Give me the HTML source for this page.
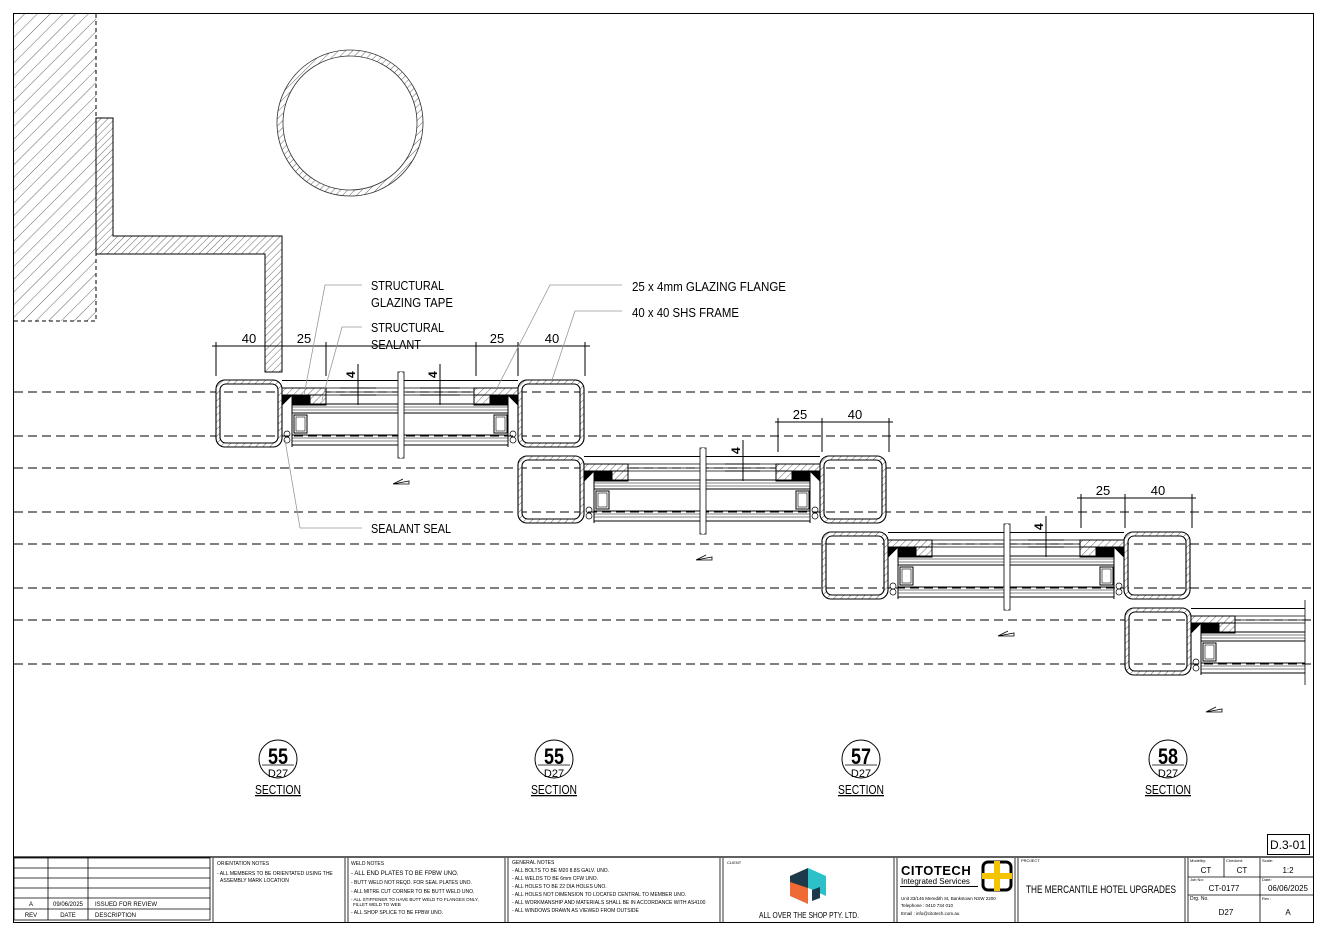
<!DOCTYPE html>
<html><head><meta charset="utf-8"><style>
html,body{margin:0;padding:0;background:#fff}
svg{display:block}
text{font-family:"Liberation Sans",sans-serif;fill:#000}
.lbl{font-size:13px;fill:#222}
</style></head><body>
<svg width="1327" height="936" viewBox="0 0 1327 936" xmlns="http://www.w3.org/2000/svg">
<defs>
<pattern id="h" width="5" height="5" patternUnits="userSpaceOnUse" patternTransform="rotate(45)">
<rect width="5" height="5" fill="#fff"/><line x1="0" y1="0" x2="0" y2="5" stroke="#555" stroke-width="0.9"/></pattern>
<pattern id="hw" width="9" height="9" patternUnits="userSpaceOnUse" patternTransform="rotate(45)">
<rect width="9" height="9" fill="#fff"/><line x1="0" y1="0" x2="0" y2="9" stroke="#666" stroke-width="1"/></pattern>
<g id="shs">
<path d="M9,0 H57 A9,9 0 0 1 66,9 V58 A9,9 0 0 1 57,67 H9 A9,9 0 0 1 0,58 V9 A9,9 0 0 1 9,0 Z M10,4 A6,6 0 0 0 4,10 V57 A6,6 0 0 0 10,63 H56 A6,6 0 0 0 62,57 V10 A6,6 0 0 0 56,4 Z" fill="url(#h)" fill-rule="evenodd" stroke="#000" stroke-width="1.1"/>
</g>
<g id="arr" stroke="#000" stroke-width="0.8" fill="none"><path d="M0,5 L16,5 L16,2 Z M0,5 L10,0"/></g>
<g id="sec" stroke="#000" stroke-width="1" fill="none">
<use href="#shs"/>
<use href="#shs" x="302"/>
<line x1="66" y1="0.5" x2="302" y2="0.5"/>
<line x1="110" y1="8" x2="258" y2="8" stroke-width="0.7"/>
<line x1="110" y1="12" x2="258" y2="12" stroke-width="0.7"/>
<line x1="110" y1="15" x2="258" y2="15" stroke-width="0.7"/>
<rect x="66" y="8" width="44" height="7" fill="url(#h)"/>
<rect x="258" y="8" width="44" height="7" fill="url(#h)"/>
<rect x="94" y="15" width="16" height="10" fill="url(#h)"/>
<rect x="258" y="15" width="16" height="10" fill="url(#h)"/>
<rect x="76" y="15" width="18" height="10" fill="#000"/>
<rect x="274" y="15" width="18" height="10" fill="#000"/>
<path d="M66,15 H76 L66,25 Z" fill="#000"/>
<path d="M302,15 H292 L302,25 Z" fill="#000"/>
<line x1="76" y1="15" x2="76" y2="67"/>
<line x1="292" y1="15" x2="292" y2="67"/>
<line x1="76" y1="24" x2="292" y2="24"/>
<line x1="76" y1="27" x2="292" y2="27" stroke-width="0.6"/>
<line x1="76" y1="30" x2="292" y2="30" stroke-width="0.6"/>
<line x1="76" y1="33" x2="292" y2="33"/>
<line x1="76" y1="55" x2="292" y2="55"/>
<line x1="76" y1="58" x2="292" y2="58" stroke-width="0.6"/>
<line x1="76" y1="61" x2="292" y2="61" stroke-width="0.6"/>
<line x1="76" y1="65" x2="292" y2="65"/>
<rect x="78" y="35" width="13" height="18"/>
<rect x="80" y="37" width="9" height="14" stroke-width="0.6"/>
<rect x="278" y="35" width="13" height="18"/>
<rect x="280" y="37" width="9" height="14" stroke-width="0.6"/>
<circle cx="71" cy="54" r="3" stroke-width="0.7"/>
<circle cx="71" cy="60" r="3" stroke-width="0.7"/>
<circle cx="297" cy="54" r="3" stroke-width="0.7"/>
<circle cx="297" cy="60" r="3" stroke-width="0.7"/>
<rect x="182" y="-8" width="6" height="86" fill="#fff" stroke-width="0.8"/>
<line x1="185" y1="-8" x2="185" y2="78" stroke="#fff" stroke-width="2"/>
</g>
<clipPath id="cp"><rect x="0" y="0" width="1305" height="936"/></clipPath>
</defs>

<rect x="13.5" y="13.5" width="1300" height="909" fill="none" stroke="#000" stroke-width="1"/>

<rect x="14" y="14" width="82" height="307" fill="url(#hw)"/>
<path d="M96,14 V321 H14" fill="none" stroke="#000" stroke-dasharray="4,3"/>
<path d="M96,118 H113 V236 H282 V372 H265 V254 H96 Z" fill="url(#h)" stroke="#000"/>
<path d="M350,50 a73,73 0 1 0 0.01,0 Z M350,56 a67,67 0 1 1 -0.01,0 Z" fill="url(#h)" fill-rule="evenodd" stroke="#333" stroke-width="0.8"/>

<g stroke="#000" stroke-dasharray="9,5" stroke-width="1">
<line x1="14" y1="392" x2="1313" y2="392"/><line x1="14" y1="436" x2="1313" y2="436"/>
<line x1="14" y1="468" x2="1313" y2="468"/><line x1="14" y1="512" x2="1313" y2="512"/>
<line x1="14" y1="544" x2="1313" y2="544"/><line x1="14" y1="588" x2="1313" y2="588"/>
<line x1="14" y1="620" x2="1313" y2="620"/><line x1="14" y1="664" x2="1313" y2="664"/>
</g>

<use href="#sec" x="216" y="380"/>
<use href="#sec" x="518" y="456"/>
<use href="#sec" x="822" y="532"/>
<g clip-path="url(#cp)"><use href="#sec" x="1125" y="608"/></g>
<line x1="1305" y1="600" x2="1305" y2="685" stroke="#000" stroke-width="0.8"/>
<use href="#arr" x="393" y="479"/>
<use href="#arr" x="696" y="555"/>
<use href="#arr" x="998" y="631"/>
<use href="#arr" x="1206" y="707"/>

<g stroke="#000" stroke-width="1" fill="none">
<line x1="212" y1="346" x2="590" y2="346"/>
<line x1="216" y1="342" x2="216" y2="376"/><line x1="282" y1="342" x2="282" y2="352"/><line x1="326" y1="342" x2="326" y2="376"/>
<line x1="476" y1="342" x2="476" y2="376"/><line x1="518" y1="342" x2="518" y2="376"/><line x1="585" y1="342" x2="585" y2="376"/>
<line x1="775" y1="422" x2="893" y2="422"/>
<line x1="778" y1="418" x2="778" y2="452"/><line x1="822" y1="418" x2="822" y2="452"/><line x1="889" y1="418" x2="889" y2="452"/>
<line x1="1077" y1="498" x2="1196" y2="498"/>
<line x1="1081" y1="494" x2="1081" y2="528"/><line x1="1125" y1="494" x2="1125" y2="528"/><line x1="1192" y1="494" x2="1192" y2="528"/>
<line x1="358" y1="364" x2="358" y2="405"/><line x1="340" y1="388" x2="376" y2="388"/><line x1="340" y1="395" x2="376" y2="395"/>
<line x1="440" y1="364" x2="440" y2="405"/><line x1="420" y1="388" x2="460" y2="388"/><line x1="420" y1="395" x2="460" y2="395"/>
<line x1="743" y1="440" x2="743" y2="481"/><line x1="725" y1="464" x2="760" y2="464"/><line x1="725" y1="471" x2="760" y2="471"/>
<line x1="1046" y1="516" x2="1046" y2="557"/><line x1="1028" y1="540" x2="1064" y2="540"/><line x1="1028" y1="547" x2="1064" y2="547"/>
</g>
<g font-size="13" text-anchor="middle">
<text x="249" y="343">40</text><text x="304" y="343">25</text><text x="497" y="343">25</text><text x="552" y="343">40</text>
<text x="800" y="419">25</text><text x="855" y="419">40</text>
<text x="1103" y="495">25</text><text x="1158" y="495">40</text>
</g>
<g font-size="12" font-weight="bold">
<text transform="translate(355,378) rotate(-90)">4</text><text transform="translate(437,378) rotate(-90)">4</text>
<text transform="translate(740,454) rotate(-90)">4</text><text transform="translate(1043,530) rotate(-90)">4</text>
</g>

<g stroke="#999" stroke-width="0.8" fill="none">
<path d="M362,285 H325 L304,395"/><path d="M362,327 H342 L322,400"/>
<path d="M622,285 H550 L495,392"/><path d="M622,311 H575 L552,380"/>
<path d="M362,528 H300 L285,440"/>
</g>
<g class="lbl" lengthAdjust="spacingAndGlyphs">
<text x="371" y="290" textLength="73" lengthAdjust="spacingAndGlyphs">STRUCTURAL</text>
<text x="371" y="307" textLength="82" lengthAdjust="spacingAndGlyphs">GLAZING TAPE</text>
<text x="371" y="332" textLength="73" lengthAdjust="spacingAndGlyphs">STRUCTURAL</text>
<text x="371" y="349" textLength="50" lengthAdjust="spacingAndGlyphs">SEALANT</text>
<text x="632" y="291" textLength="154" lengthAdjust="spacingAndGlyphs">25 x 4mm GLAZING FLANGE</text>
<text x="632" y="317" textLength="107" lengthAdjust="spacingAndGlyphs">40 x 40 SHS FRAME</text>
<text x="371" y="533" textLength="80" lengthAdjust="spacingAndGlyphs">SEALANT SEAL</text>
</g>

<g>
<circle cx="278" cy="759" r="19" fill="none" stroke="#000"/><line x1="262" y1="765" x2="294" y2="765" stroke="#000" stroke-width="0.8"/>
<text x="278" y="764" font-size="22" font-weight="bold" text-anchor="middle" textLength="20" lengthAdjust="spacingAndGlyphs">55</text><text x="278" y="777" font-size="11" text-anchor="middle">D27</text>
<text x="278" y="794" font-size="13" text-anchor="middle" text-decoration="underline" textLength="46" lengthAdjust="spacingAndGlyphs">SECTION</text>
<circle cx="554" cy="759" r="19" fill="none" stroke="#000"/><line x1="538" y1="765" x2="570" y2="765" stroke="#000" stroke-width="0.8"/>
<text x="554" y="764" font-size="22" font-weight="bold" text-anchor="middle" textLength="20" lengthAdjust="spacingAndGlyphs">55</text><text x="554" y="777" font-size="11" text-anchor="middle">D27</text>
<text x="554" y="794" font-size="13" text-anchor="middle" text-decoration="underline" textLength="46" lengthAdjust="spacingAndGlyphs">SECTION</text>
<circle cx="861" cy="759" r="19" fill="none" stroke="#000"/><line x1="845" y1="765" x2="877" y2="765" stroke="#000" stroke-width="0.8"/>
<text x="861" y="764" font-size="22" font-weight="bold" text-anchor="middle" textLength="20" lengthAdjust="spacingAndGlyphs">57</text><text x="861" y="777" font-size="11" text-anchor="middle">D27</text>
<text x="861" y="794" font-size="13" text-anchor="middle" text-decoration="underline" textLength="46" lengthAdjust="spacingAndGlyphs">SECTION</text>
<circle cx="1168" cy="759" r="19" fill="none" stroke="#000"/><line x1="1152" y1="765" x2="1184" y2="765" stroke="#000" stroke-width="0.8"/>
<text x="1168" y="764" font-size="22" font-weight="bold" text-anchor="middle" textLength="20" lengthAdjust="spacingAndGlyphs">58</text><text x="1168" y="777" font-size="11" text-anchor="middle">D27</text>
<text x="1168" y="794" font-size="13" text-anchor="middle" text-decoration="underline" textLength="46" lengthAdjust="spacingAndGlyphs">SECTION</text>
</g>

<rect x="1267.5" y="834.5" width="42" height="20" fill="none" stroke="#000"/>
<text x="1288" y="849" font-size="12" text-anchor="middle">D.3-01</text>
<line x1="14" y1="857" x2="1313" y2="857" stroke="#000" stroke-width="1.2"/>
<g stroke="#000" fill="none" stroke-width="0.8">
<rect x="14" y="858" width="196" height="62"/>
<line x1="14" y1="868" x2="210" y2="868"/><line x1="14" y1="878" x2="210" y2="878"/><line x1="14" y1="888" x2="210" y2="888"/><line x1="14" y1="898" x2="210" y2="898"/><line x1="14" y1="909" x2="210" y2="909"/>
<line x1="48" y1="858" x2="48" y2="920"/><line x1="88" y1="858" x2="88" y2="920"/>
<line x1="213" y1="858" x2="213" y2="922"/>
<line x1="345" y1="858" x2="345" y2="922"/><line x1="348" y1="858" x2="348" y2="922"/>
<line x1="505" y1="858" x2="505" y2="922"/><line x1="508" y1="858" x2="508" y2="922"/>
<line x1="720" y1="858" x2="720" y2="922"/><line x1="723" y1="858" x2="723" y2="922"/>
<line x1="894" y1="858" x2="894" y2="922"/><line x1="897" y1="858" x2="897" y2="922"/>
<line x1="1015" y1="858" x2="1015" y2="922"/><line x1="1018" y1="858" x2="1018" y2="922"/>
<line x1="1185" y1="858" x2="1185" y2="922"/><line x1="1188" y1="858" x2="1188" y2="922"/>
<line x1="1260" y1="858" x2="1260" y2="922"/>
<line x1="1224" y1="858" x2="1224" y2="877"/>
<line x1="1188" y1="877" x2="1313" y2="877"/><line x1="1188" y1="895" x2="1313" y2="895"/>
</g>
<g font-size="6">
<text x="31" y="906" text-anchor="middle">A</text><text x="68" y="906" text-anchor="middle">09/06/2025</text><text x="95" y="906">ISSUED FOR REVIEW</text>
<text x="31" y="917" text-anchor="middle">REV</text><text x="68" y="917" text-anchor="middle">DATE</text><text x="95" y="917">DESCRIPTION</text>
<text x="217" y="865" font-size="5">ORIENTATION NOTES</text>
<text x="217" y="875" font-size="5">- ALL MEMBERS TO BE ORIENTATED USING THE</text><text x="220" y="882" font-size="5">ASSEMBLY MARK LOCATION</text>
<text x="351" y="865" font-size="5">WELD NOTES</text>
<text x="351" y="875">- ALL END PLATES TO BE FPBW UNO.</text>
<text x="351" y="884" font-size="5">- BUTT WELD NOT REQD. FOR SEAL PLATES UNO.</text>
<text x="351" y="893" font-size="5">- ALL  MITRE CUT CORNER TO BE BUTT WELD UNO.</text>
<text x="351" y="901" font-size="4.5">- ALL STIFFENER TO HAVE BUTT WELD TO FLANGES ONLY,</text>
<text x="353" y="906" font-size="4.5">FILLET WELD TO WEB</text>
<text x="351" y="914" font-size="5">- ALL  SHOP SPLICE TO BE FPBW UNO.</text>
<text x="512" y="864" font-size="5">GENERAL NOTES</text>
<text x="512" y="872" font-size="5">- ALL BOLTS TO BE M20 8.8S GALV. UNO.</text>
<text x="512" y="880" font-size="5">- ALL WELDS TO BE 6mm CFW UNO.</text>
<text x="512" y="888" font-size="5">- ALL HOLES TO BE 22 DIA HOLES UNO.</text>
<text x="512" y="896" font-size="5">- ALL HOLES NOT DIMENSION TO LOCATED CENTRAL TO MEMBER UNO.</text>
<text x="512" y="904" font-size="5">- ALL WORKMANSHIP AND MATERIALS SHALL BE IN ACCORDANCE WITH AS4100</text>
<text x="512" y="912" font-size="5">- ALL WINDOWS DRAWN AS VIEWED FROM OUTSIDE</text>
<text x="727" y="864" font-size="4">CLIENT</text>
<text x="1021" y="862" font-size="4">PROJECT</text>
</g>
<path d="M790,876 L808,868 L808,888 L790,896 Z" fill="#1d3a4a"/>
<path d="M808,868 L826,876 L826,896 L808,888 Z" fill="#2cc0c8"/>
<path d="M790,882 L808,888 L808,904 L790,896 Z" fill="#f06a35"/>
<path d="M812,890 L820,887 L820,898 L812,901 Z" fill="#1d3a4a"/>
<text x="759" y="918" font-size="8.5" textLength="100" lengthAdjust="spacingAndGlyphs">ALL OVER THE SHOP PTY. LTD.</text>
<text x="901" y="875" font-size="13" font-weight="bold" letter-spacing="0.5">CITOTECH</text>
<text x="901" y="884" font-size="8" fill="#444">Integrated Services</text>
<rect x="900" y="886" width="78" height="1" fill="#000"/>
<rect x="983" y="862" width="28" height="28" fill="#fff" stroke="#000" stroke-width="3" rx="5"/>
<rect x="994" y="861" width="6" height="30" fill="#f5c400"/><rect x="982" y="873" width="30" height="6" fill="#f5c400"/>
<text x="901" y="900" font-size="4.5">Unit 33/146 Meredith St, Bankstown NSW 2200</text>
<text x="901" y="907" font-size="4.5">Telephone : 0410 734 010</text>
<text x="901" y="915" font-size="4.5">Email : info@citotech.com.au</text>
<text x="1026" y="893" font-size="11" textLength="150" lengthAdjust="spacingAndGlyphs">THE MERCANTILE HOTEL UPGRADES</text>
<g font-size="4"><text x="1190" y="862">Modelby:</text><text x="1226" y="862">Checked:</text><text x="1262" y="862">Scale:</text>
<text x="1190" y="881">Job No:</text><text x="1262" y="881">Date:</text><text x="1190" y="900" font-size="5">Drg. No.</text><text x="1262" y="900">Rev :</text></g>
<g font-size="8" text-anchor="middle">
<text x="1206" y="873">CT</text><text x="1242" y="873">CT</text><text x="1288" y="873">1:2</text>
<text x="1224" y="891">CT-0177</text><text x="1288" y="891">06/06/2025</text>
<text x="1226" y="915">D27</text><text x="1288" y="915">A</text>
</g>
</svg>
</body></html>
